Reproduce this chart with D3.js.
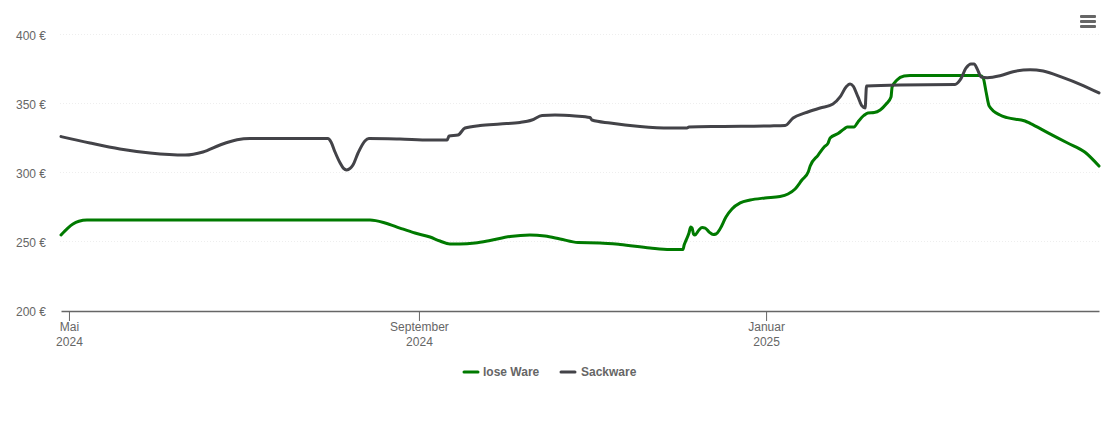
<!DOCTYPE html>
<html><head><meta charset="utf-8">
<script src="https://cdn.jsdelivr.net/npm/d3@7"></script>
<style>html,body{margin:0;padding:0;background:#fff}svg{display:block;font-family:"Liberation Sans",Arial,sans-serif}</style>
</head><body><div id="chart"></div>
<script>
// Days since 1 May 2024, and euro values
const looseDays = [-2.8,-0.4,1.4,3.5,6.3,105.8,111.1,116.3,121.6,126.9,130.4,133.9,137.4,142.7,148,155,162,167.3,172.6,178.9,186.6,193.7,204.2,211.2,215.8,216.2,216.9,217.9,218.5,219,219.5,220,221.4,222.5,223.6,225,226.4,227.4,228.8,230.9,233,235.9,239.4,244.6,249.9,252.7,255.2,257.6,259.8,260.5,263.3,265.4,266.8,267.5,270.3,272.4,273.5,275.9,277.3,279.4,280.8,283,285.1,287.2,288.9,289.3,291,293.5,295.6,320.2,321.3,322.3,323.4,327.2,329.7,336,337.8,344.1,350.8,357.1,362];
const looseVals = [255.1,260.1,263,265,265.9,265.9,263.8,260.1,256.5,253.6,250.7,248.6,248.6,249.3,251.1,254,255.1,254.3,252.2,249.6,249.3,248.2,245.7,244.6,244.6,247.8,251.4,256.5,260.9,260.1,255.8,255.1,258.7,260.5,260.1,257.2,255.4,255.8,259.4,268.1,273.9,278.3,280.4,281.9,283,284.8,288.4,294.9,300.7,305.1,313,318.8,321.7,325.4,328.6,331.9,333.3,333.3,337,341.7,343.5,343.8,345.7,350,355.1,362.3,367.4,370.3,370.7,370.7,368.8,358.9,348.6,342,340.1,337.7,336,329.1,321.9,315,305];
const sackDays = [-2.8,7.4,17.9,28.5,40.8,47.1,53.1,59.1,63.6,91,92.1,93.5,95.3,96.5,97.6,98.8,99.8,101.6,104,105.4,116.3,126.9,132.9,133.6,136.7,139.2,144.5,151.5,158.5,162.7,166.3,170.8,177.9,183.1,183.8,190.2,200.7,211.2,217.2,217.9,228.8,246.4,251.7,254.5,258.7,264,268.5,271,273.1,274.5,275.6,277.3,278.7,279.8,280.3,292.1,311.4,313.2,315.3,317,318.1,319.2,320.6,322.7,327.2,331.8,337.8,342.4,349.4,355.4,362];
const sackVals = [326.4,321.7,317.4,314.5,313,315.2,320.3,324.1,325,325,322.5,315.2,307.2,303.3,302.2,303.3,305.8,314.5,323.2,325,324.6,323.9,323.9,326.8,327.5,332.6,334.4,335.5,336.6,338.4,341.7,342,341.3,340.2,338.4,336.2,333.7,332.6,332.6,333.3,333.7,334.1,334.4,339.9,343.5,347.1,350,355.1,362.3,364.5,363,355.1,348.6,347.1,363,363.8,364.1,367.4,376.1,379,379,375.4,369.6,369.1,370.5,373.4,374.9,373.9,369.1,364.3,358];
const seriesNames = ["lose Ware","Sackware"];
const seriesColors = ["#007a00","#434348"];
const yTicks = [200,250,300,350,400];
const xTickDates = ["2024-05-01","2024-09-01","2025-01-01"];
const xTickMonths = ["Mai","September","Januar"];
const xTickYears = ["2024","2024","2025"];

const W=1110,H=422,L=61,R=1099,T=35,B=311;
const base = new Date(2024,4,1);
const toDate = d => new Date(base.getTime()+d*864e5);
const parse = d3.timeParse("%Y-%m-%d");
const x = d3.scaleTime().domain([toDate(-2.8),toDate(362)]).range([L,R]);
const y = d3.scaleLinear().domain([200,400]).range([B,T]);
const svg = d3.select("#chart").append("svg").attr("width",W).attr("height",H);

// Grid
svg.append("g").selectAll("line").data(yTicks.slice(1)).join("line")
  .attr("x1",L-1).attr("x2",R).attr("y1",d=>Math.round(y(d))-.5).attr("y2",d=>Math.round(y(d))-.5)
  .attr("stroke","#eeeeee").attr("stroke-width",1).attr("stroke-dasharray","1,2");

// Y axis labels
const ya = svg.append("g").attr("transform",`translate(${L},0.7)`)
  .call(d3.axisLeft(y).tickValues(yTicks).tickSize(0).tickPadding(15).tickFormat(d=>d+" €"));
ya.select(".domain").remove();
ya.selectAll("text").attr("fill","#666").style("font-size","12px").style("font-family","'Liberation Sans',Arial,sans-serif");

// X axis
const tickDates = xTickDates.map(parse);
const xa = svg.append("g").attr("transform",`translate(0,${B})`)
  .call(d3.axisBottom(x).tickValues(tickDates).tickSize(10).tickSizeOuter(0).tickFormat(""));
xa.select(".domain").attr("stroke","#666").attr("stroke-width",1.4);
xa.selectAll(".tick line").attr("stroke","#666");
xa.selectAll(".tick").each(function(d,i){
  const t = d3.select(this).append("text").attr("text-anchor","middle").attr("fill","#666").style("font-size","12px").style("font-family","'Liberation Sans',Arial,sans-serif");
  t.append("tspan").attr("x",0).attr("y",19.5).text(xTickMonths[i]);
  t.append("tspan").attr("x",0).attr("y",34.5).text(xTickYears[i]);
});

// Lines
const line = d3.line().x(d=>x(toDate(d[0]))).y(d=>y(d[1])).curve(d3.curveMonotoneX);
const series = [d3.zip(looseDays,looseVals), d3.zip(sackDays,sackVals)];
svg.append("g").selectAll("path").data(series).join("path")
  .attr("d",line).attr("fill","none").attr("stroke",(d,i)=>seriesColors[i])
  .attr("stroke-width",3).attr("stroke-linejoin","round").attr("stroke-linecap","round");

// Legend
const legendX = [463,560];
const lg = svg.append("g").selectAll("g").data(seriesNames).join("g")
  .attr("transform",(d,i)=>`translate(${legendX[i]},372)`);
lg.append("line").attr("x1",1).attr("x2",15).attr("y1",0).attr("y2",0)
  .attr("stroke",(d,i)=>seriesColors[i]).attr("stroke-width",3).attr("stroke-linecap","round");
lg.append("text").attr("x",(d,i)=>i?21:20).attr("y",4).text(d=>d)
  .attr("fill","#666").style("font-size","12px").style("font-weight","bold");

// Menu icon
svg.append("g").selectAll("rect").data([0,1,2]).join("rect")
  .attr("x",1080).attr("y",d=>15+d*5).attr("width",16).attr("height",3).attr("rx",1)
  .attr("fill","#666");
</script></body></html>
